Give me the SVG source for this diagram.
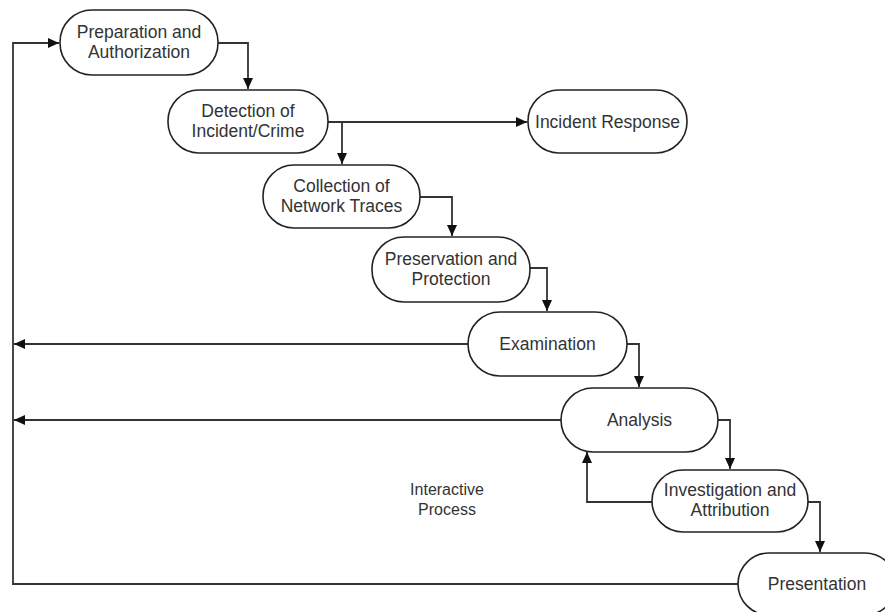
<svg xmlns="http://www.w3.org/2000/svg" width="885" height="612" viewBox="0 0 885 612">
<defs>
<style>
.node rect{fill:#fff;stroke:#222;stroke-width:1.6}
.node text,.label{font-family:"Liberation Sans",Arial,sans-serif;font-size:17.5px;fill:#333;text-anchor:middle}
.label{font-size:16px}
.conn path{fill:none;stroke:#333;stroke-width:1.8}
</style>
<marker id="arr" markerUnits="userSpaceOnUse" markerWidth="12" markerHeight="12" viewBox="0 0 12 12" refX="11" refY="6" orient="auto">
<path d="M0,1 L11,6 L0,11 Z" fill="#111"/>
</marker>
</defs>
<rect width="885" height="612" fill="#fff"/>
<g id="connectors" class="conn">
<path d="M218,43 H248 V89" marker-end="url(#arr)"/>
<path d="M328,122 H527" marker-end="url(#arr)"/>
<path d="M342,122 V164" marker-end="url(#arr)"/>
<path d="M420,197 H452 V236" marker-end="url(#arr)"/>
<path d="M530,268 H547 V311" marker-end="url(#arr)"/>
<path d="M468,344 H14" marker-end="url(#arr)"/>
<path d="M627,344 H639 V387" marker-end="url(#arr)"/>
<path d="M561,420 H14" marker-end="url(#arr)"/>
<path d="M718,420 H730 V469" marker-end="url(#arr)"/>
<path d="M652,502 H587 V452" marker-end="url(#arr)"/>
<path d="M808,502 H820 V552" marker-end="url(#arr)"/>
<path d="M738,584 H13 V43 H59" marker-end="url(#arr)"/>
</g>
<g id="n1" class="node"><rect x="60" y="10" width="158" height="65" rx="32"/><text x="139" y="38">Preparation and</text><text x="139" y="58">Authorization</text></g>
<g id="n2" class="node"><rect x="168" y="90" width="160" height="63" rx="31"/><text x="248" y="117">Detection of</text><text x="248" y="137">Incident/Crime</text></g>
<g id="n3" class="node"><rect x="528" y="90" width="159" height="63" rx="31"/><text x="607.5" y="127.5">Incident Response</text></g>
<g id="n4" class="node"><rect x="263" y="165" width="157" height="63" rx="31"/><text x="341.5" y="192">Collection of</text><text x="341.5" y="212">Network Traces</text></g>
<g id="n5" class="node"><rect x="372" y="237" width="158" height="65" rx="32"/><text x="451" y="265">Preservation and</text><text x="451" y="285">Protection</text></g>
<g id="n6" class="node"><rect x="468" y="312" width="159" height="64" rx="32"/><text x="547.5" y="349.5">Examination</text></g>
<g id="n7" class="node"><rect x="561" y="388" width="157" height="64" rx="32"/><text x="639.5" y="425.5">Analysis</text></g>
<g id="n8" class="node"><rect x="652" y="470" width="156" height="62" rx="31"/><text x="730" y="496">Investigation and</text><text x="730" y="516">Attribution</text></g>
<g id="n9" class="node"><rect x="738" y="553" width="158" height="62" rx="31"/><text x="817" y="589.5">Presentation</text></g>
<text class="label" x="447" y="495">Interactive</text>
<text class="label" x="447" y="515">Process</text>
</svg>
